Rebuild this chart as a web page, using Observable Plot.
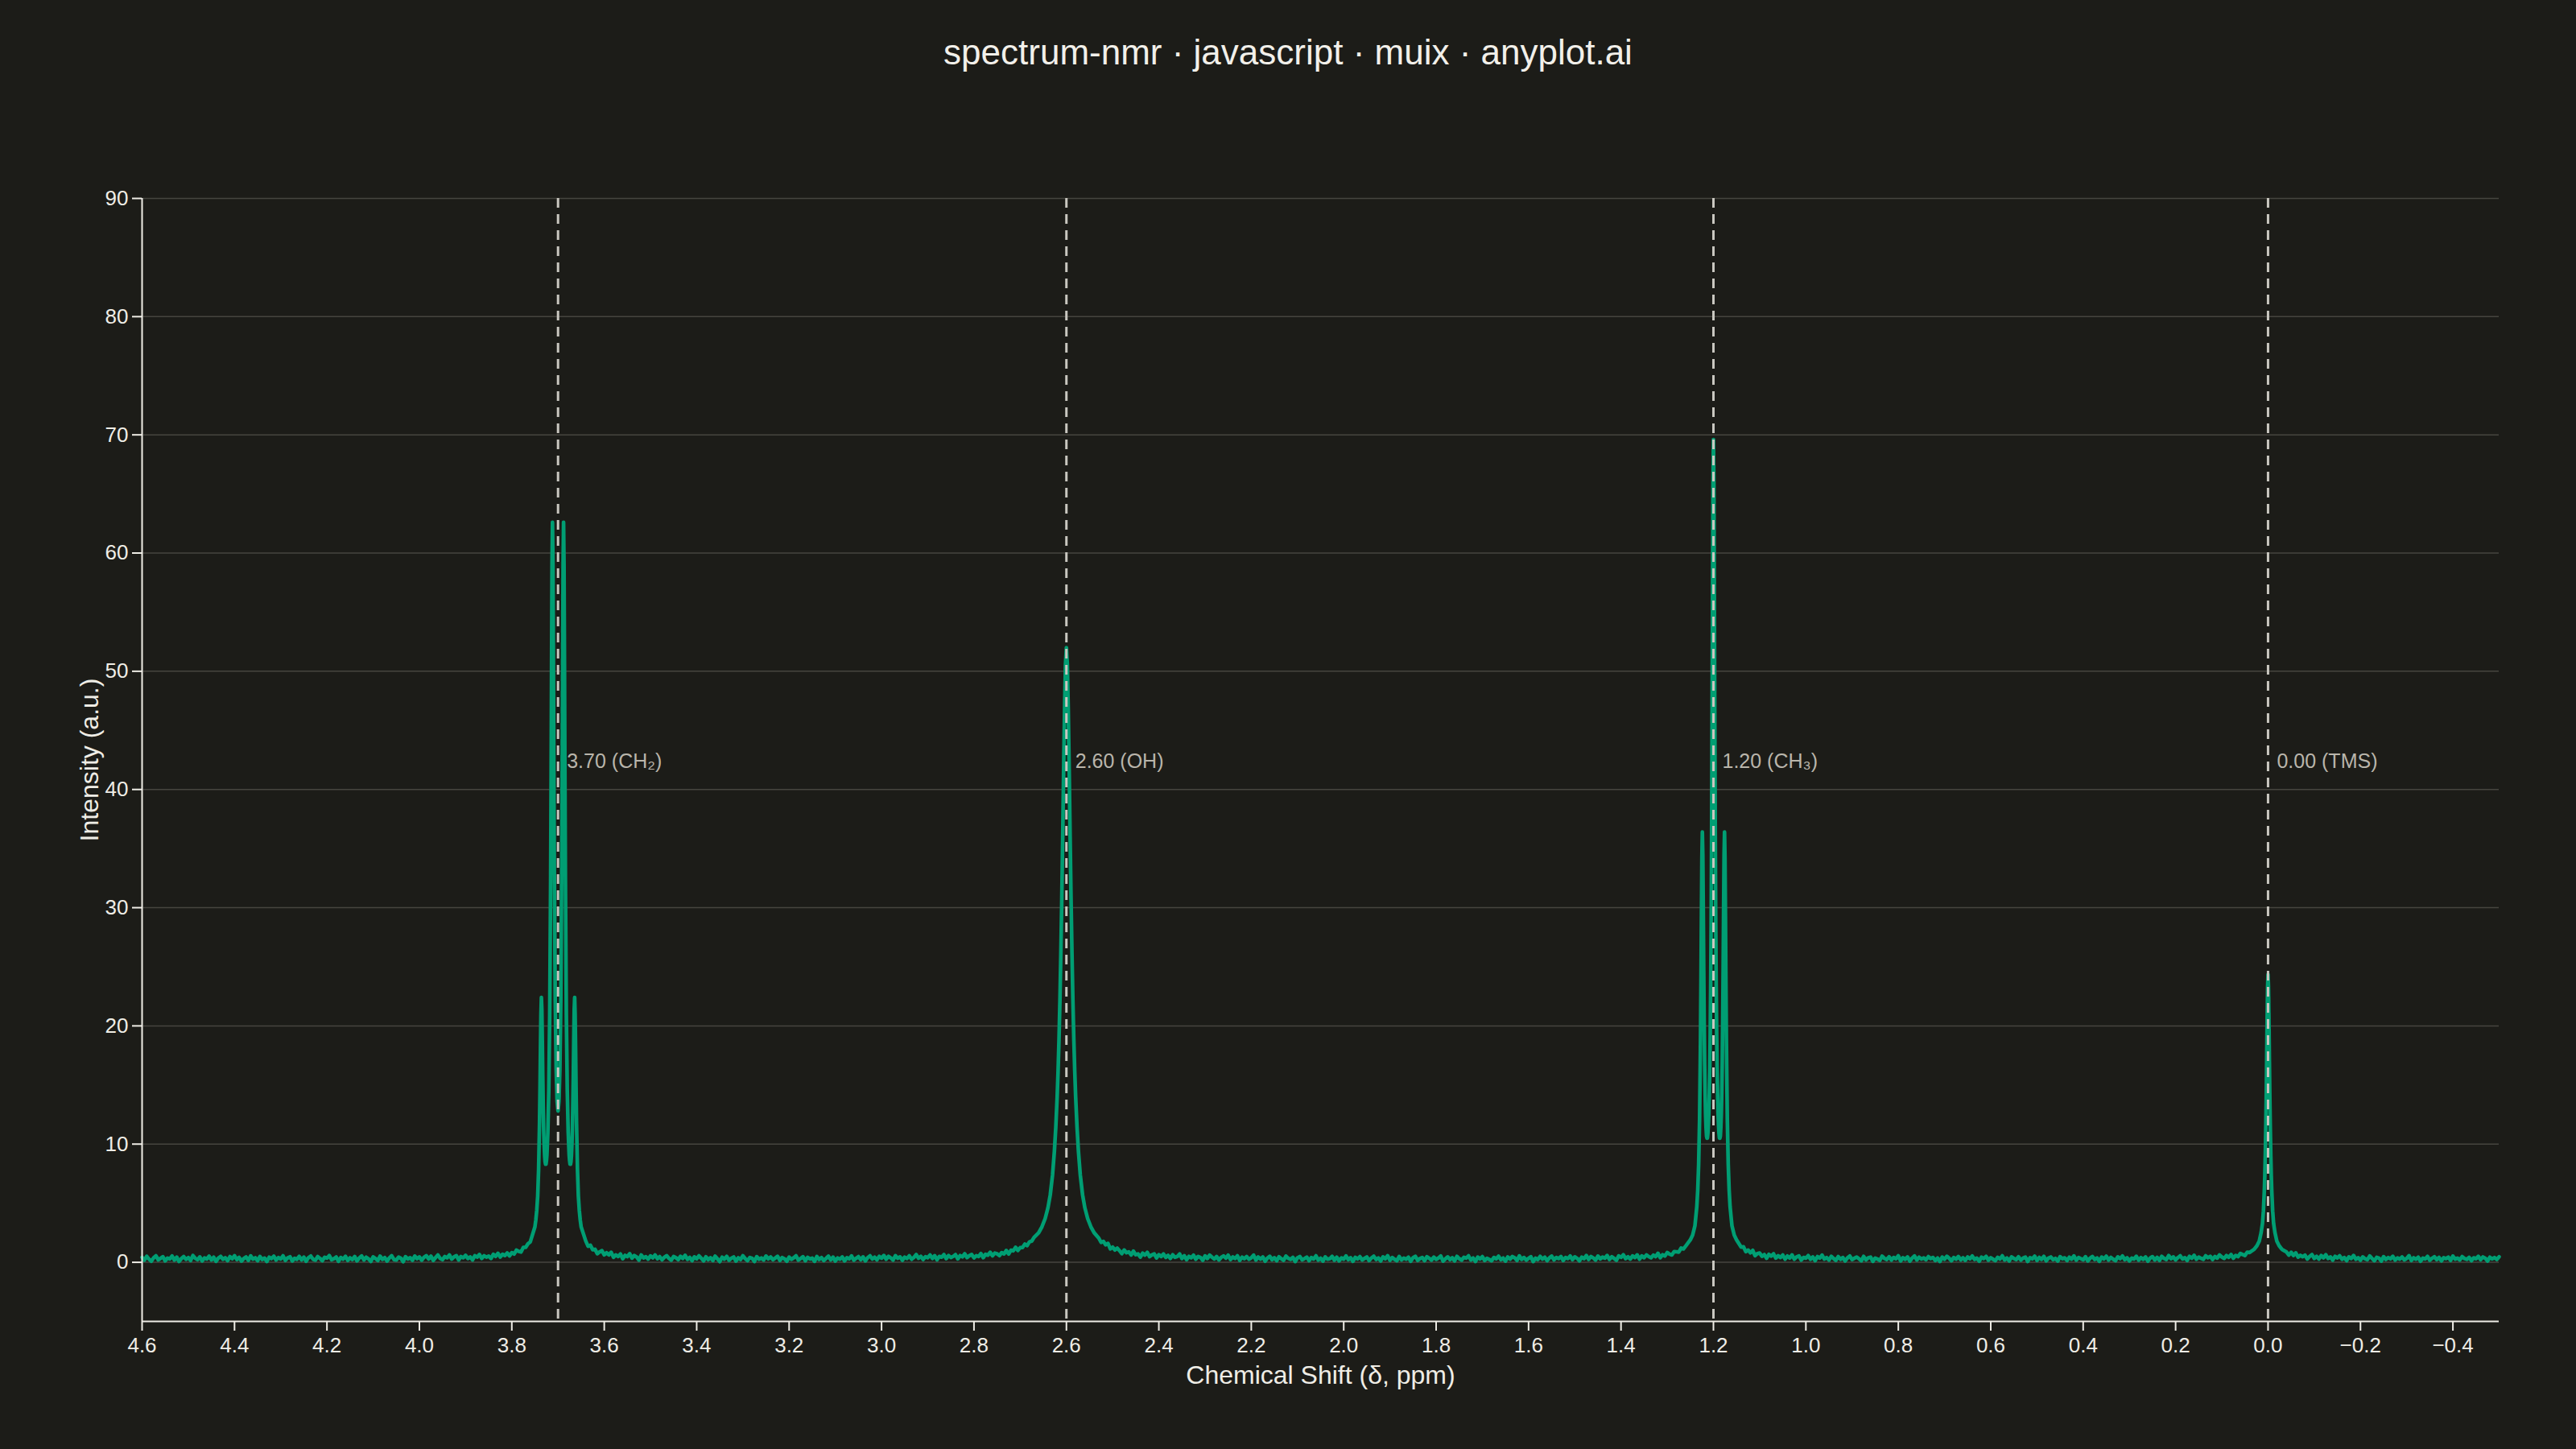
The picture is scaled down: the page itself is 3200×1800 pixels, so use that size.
<!DOCTYPE html>
<html>
<head>
<meta charset="utf-8">
<script src="https://cdn.jsdelivr.net/npm/d3@7"></script>
<script src="https://cdn.jsdelivr.net/npm/@observablehq/plot@0.6"></script>
<style>
  html, body { margin: 0; padding: 0; background: #1c1c18; overflow: hidden; }
  #title { padding-top: 43px; height: 44px; line-height: 44px; font-size: 44px; text-align: center;
           color: #f2f0ea; font-family: "Liberation Sans", Arial, Helvetica, sans-serif; }
  #chart svg { display: block; }
</style>
</head>
<body>
<div id="title">spectrum-nmr · javascript · muix · anyplot.ai</div>
<div id="chart"></div>
<script>
// ---- data ----
const xLabel = "Chemical Shift (δ, ppm)";
const yLabel = "Intensity (a.u.)";
const xTicks = [4.6, 4.4, 4.2, 4.0, 3.8, 3.6, 3.4, 3.2, 3.0, 2.8, 2.6, 2.4, 2.2, 2.0, 1.8, 1.6, 1.4, 1.2, 1.0, 0.8, 0.6, 0.4, 0.2, 0.0, -0.2, -0.4];
const yTicks = [0, 10, 20, 30, 40, 50, 60, 70, 80, 90];
const peakShifts = [3.70, 2.60, 1.20, 0.00];
const peakLabels = ["3.70 (CH₂)", "2.60 (OH)", "1.20 (CH₃)", "0.00 (TMS)"];

// baseline 4.600 -> 3.760
const baseAShift = [
4.600,4.595,4.590,4.585,4.580,4.575,4.570,4.565,4.560,4.555,
4.550,4.545,4.540,4.535,4.530,4.525,4.520,4.515,4.510,4.505,
4.500,4.495,4.490,4.485,4.480,4.475,4.470,4.465,4.460,4.455,
4.450,4.445,4.440,4.435,4.430,4.425,4.420,4.415,4.410,4.405,
4.400,4.395,4.390,4.385,4.380,4.375,4.370,4.365,4.360,4.355,
4.350,4.345,4.340,4.335,4.330,4.325,4.320,4.315,4.310,4.305,
4.300,4.295,4.290,4.285,4.280,4.275,4.270,4.265,4.260,4.255,
4.250,4.245,4.240,4.235,4.230,4.225,4.220,4.215,4.210,4.205,
4.200,4.195,4.190,4.185,4.180,4.175,4.170,4.165,4.160,4.155,
4.150,4.145,4.140,4.135,4.130,4.125,4.120,4.115,4.110,4.105,
4.100,4.095,4.090,4.085,4.080,4.075,4.070,4.065,4.060,4.055,
4.050,4.045,4.040,4.035,4.030,4.025,4.020,4.015,4.010,4.005,
4.000,3.995,3.990,3.985,3.980,3.975,3.970,3.965,3.960,3.955,
3.950,3.945,3.940,3.935,3.930,3.925,3.920,3.915,3.910,3.905,
3.900,3.895,3.890,3.885,3.880,3.875,3.870,3.865,3.860,3.855,
3.850,3.845,3.840,3.835,3.830,3.825,3.820,3.815,3.810,3.805,
3.800,3.795,3.790,3.785,3.780,3.775,3.770,3.765,3.760];
const baseAInt = [
0.42,0.18,0.51,0.27,0.09,0.38,0.55,0.21,0.33,0.47,
0.12,0.36,0.29,0.53,0.19,0.44,0.07,0.31,0.49,0.25,
0.40,0.15,0.57,0.34,0.22,0.46,0.11,0.37,0.28,0.52,
0.20,0.43,0.08,0.35,0.50,0.26,0.39,0.14,0.48,0.30,
0.56,0.23,0.41,0.10,0.32,0.45,0.17,0.54,0.27,0.38,
0.13,0.49,0.24,0.36,0.06,0.43,0.31,0.52,0.19,0.40,
0.28,0.55,0.16,0.37,0.47,0.11,0.34,0.25,0.50,0.21,
0.44,0.09,0.39,0.53,0.26,0.18,0.48,0.33,0.14,0.42,
0.35,0.57,0.22,0.30,0.45,0.08,0.41,0.27,0.51,0.16,
0.38,0.24,0.49,0.12,0.36,0.54,0.20,0.43,0.29,0.07,
0.46,0.32,0.15,0.52,0.25,0.40,0.10,0.37,0.56,0.23,
0.19,0.44,0.34,0.05,0.48,0.28,0.39,0.17,0.53,0.31,
0.46,0.18,0.42,0.56,0.28,0.52,0.16,0.40,0.62,0.33,
0.22,0.49,0.38,0.62,0.27,0.46,0.56,0.20,0.49,0.38,
0.59,0.32,0.46,0.20,0.56,0.44,0.66,0.32,0.56,0.44,
0.52,0.32,0.68,0.50,0.76,0.45,0.68,0.57,0.79,0.54,
0.82,0.70,1.03,0.92,0.87,1.27,1.26,1.57,1.73];

// CH2 quartet 3.750 -> 3.650
const ch2Shift = [3.750,3.748,3.746,3.744,3.742,3.740,3.739,3.738,3.737,3.736,
3.735,3.734,3.733,3.732,3.731,3.730,3.729,3.728,3.727,3.726,
3.725,3.724,3.722,3.720,3.718,3.716,3.715,3.714,3.713,3.712,
3.711,3.710,3.709,3.708,3.706,3.704,3.702,3.700,3.698,3.696,
3.694,3.692,3.691,3.690,3.689,3.688,3.687,3.686,3.685,3.684,
3.682,3.680,3.678,3.676,3.675,3.674,3.673,3.672,3.671,3.670,
3.669,3.668,3.667,3.666,3.665,3.664,3.663,3.662,3.661,3.660,
3.658,3.656,3.654,3.652,3.650];
const ch2Int = [3.0,3.6,4.4,5.6,7.9,11.9,14.8,18.1,21.0,22.4,
21.4,18.7,15.7,13.2,11.2,9.9,9.0,8.5,8.3,8.3,
8.6,9.1,11.0,14.5,20.9,32.4,40.8,50.5,59.0,62.6,
59.2,50.8,41.4,33.2,22.1,16.3,13.6,12.8,13.6,16.3,
22.1,33.2,41.4,50.8,59.2,62.6,59.0,50.5,40.8,32.4,
20.9,14.5,11.0,9.1,8.6,8.3,8.3,8.5,9.0,9.9,
11.2,13.2,15.7,18.7,21.4,22.4,21.0,18.1,14.8,11.9,
7.9,5.6,4.4,3.6,3.0];

// baseline 3.640 -> 2.670
const baseBShift = [
3.640,3.635,3.630,3.625,3.620,3.615,3.610,3.605,3.600,3.595,
3.590,3.585,3.580,3.575,3.570,3.565,3.560,3.555,3.550,3.545,
3.540,3.535,3.530,3.525,3.520,3.515,3.510,3.505,3.500,3.495,
3.490,3.485,3.480,3.475,3.470,3.465,3.460,3.455,3.450,3.445,
3.440,3.435,3.430,3.425,3.420,3.415,3.410,3.405,3.400,3.395,
3.390,3.385,3.380,3.375,3.370,3.365,3.360,3.355,3.350,3.345,
3.340,3.335,3.330,3.325,3.320,3.315,3.310,3.305,3.300,3.295,
3.290,3.285,3.280,3.275,3.270,3.265,3.260,3.255,3.250,3.245,
3.240,3.235,3.230,3.225,3.220,3.215,3.210,3.205,3.200,3.195,
3.190,3.185,3.180,3.175,3.170,3.165,3.160,3.155,3.150,3.145,
3.140,3.135,3.130,3.125,3.120,3.115,3.110,3.105,3.100,3.095,
3.090,3.085,3.080,3.075,3.070,3.065,3.060,3.055,3.050,3.045,
3.040,3.035,3.030,3.025,3.020,3.015,3.010,3.005,3.000,2.995,
2.990,2.985,2.980,2.975,2.970,2.965,2.960,2.955,2.950,2.945,
2.940,2.935,2.930,2.925,2.920,2.915,2.910,2.905,2.900,2.895,
2.890,2.885,2.880,2.875,2.870,2.865,2.860,2.855,2.850,2.845,
2.840,2.835,2.830,2.825,2.820,2.815,2.810,2.805,2.800,2.795,
2.790,2.785,2.780,2.775,2.770,2.765,2.760,2.755,2.750,2.745,
2.740,2.735,2.730,2.725,2.720,2.715,2.710,2.705,2.700,2.695,
2.690,2.685,2.680,2.675,2.670];
const baseBInt = [
1.80,1.36,1.45,1.07,1.10,0.73,0.88,0.99,0.63,0.81,
0.63,0.85,0.42,0.63,0.49,0.70,0.30,0.59,0.48,0.73,
0.35,0.58,0.45,0.19,0.62,0.37,0.48,0.27,0.54,0.38,
0.62,0.30,0.48,0.21,0.42,0.56,0.33,0.18,0.49,0.39,
0.22,0.51,0.33,0.59,0.25,0.41,0.14,0.46,0.30,0.55,
0.34,0.12,0.47,0.23,0.39,0.15,0.52,0.29,0.06,0.43,
0.27,0.50,0.18,0.35,0.45,0.10,0.38,0.24,0.56,0.31,
0.14,0.41,0.33,0.07,0.48,0.26,0.37,0.20,0.53,0.29,
0.45,0.22,0.36,0.51,0.16,0.40,0.30,0.09,0.44,0.25,
0.38,0.55,0.19,0.32,0.47,0.13,0.42,0.28,0.35,0.08,
0.49,0.24,0.40,0.15,0.33,0.52,0.21,0.44,0.11,0.37,
0.26,0.46,0.12,0.39,0.29,0.54,0.18,0.34,0.48,0.22,
0.46,0.12,0.40,0.55,0.28,0.43,0.21,0.50,0.35,0.58,
0.26,0.50,0.37,0.19,0.56,0.34,0.46,0.17,0.44,0.32,
0.55,0.26,0.42,0.65,0.34,0.50,0.24,0.47,0.39,0.62,
0.33,0.56,0.21,0.50,0.43,0.65,0.31,0.57,0.41,0.50,
0.65,0.29,0.57,0.46,0.72,0.40,0.56,0.66,0.38,0.56,
0.49,0.74,0.39,0.68,0.60,0.85,0.55,0.78,0.72,0.57,
0.82,0.71,1.00,0.70,1.02,0.97,1.27,1.00,1.24,1.25,
1.54,1.41,1.73,1.79,2.11];

// OH singlet 2.660 -> 2.540
const ohShift = [2.660,2.653,2.646,2.640,2.635,2.630,2.626,2.623,2.620,2.618,
2.616,2.614,2.612,2.610,2.608,2.606,2.604,2.602,2.600,2.598,
2.596,2.594,2.592,2.590,2.588,2.586,2.584,2.582,2.580,2.577,
2.574,2.570,2.565,2.560,2.554,2.547,2.540];
const ohInt = [2.5,3.0,3.7,4.6,5.7,7.4,9.4,11.4,14.0,16.2,
18.9,22.2,26.2,30.8,36.1,41.7,46.8,50.6,52.0,50.6,
46.8,41.7,36.1,30.8,26.2,22.2,18.9,16.2,14.0,11.4,
9.4,7.4,5.7,4.6,3.7,3.0,2.5];

// baseline 2.530 -> 1.260
const baseCShift = [
2.530,2.525,2.520,2.515,2.510,2.505,2.500,2.495,2.490,2.485,
2.480,2.475,2.470,2.465,2.460,2.455,2.450,2.445,2.440,2.435,
2.430,2.425,2.420,2.415,2.410,2.405,2.400,2.395,2.390,2.385,
2.380,2.375,2.370,2.365,2.360,2.355,2.350,2.345,2.340,2.335,
2.330,2.325,2.320,2.315,2.310,2.305,2.300,2.295,2.290,2.285,
2.280,2.275,2.270,2.265,2.260,2.255,2.250,2.245,2.240,2.235,
2.230,2.225,2.220,2.215,2.210,2.205,2.200,2.195,2.190,2.185,
2.180,2.175,2.170,2.165,2.160,2.155,2.150,2.145,2.140,2.135,
2.130,2.125,2.120,2.115,2.110,2.105,2.100,2.095,2.090,2.085,
2.080,2.075,2.070,2.065,2.060,2.055,2.050,2.045,2.040,2.035,
2.030,2.025,2.020,2.015,2.010,2.005,2.000,1.995,1.990,1.985,
1.980,1.975,1.970,1.965,1.960,1.955,1.950,1.945,1.940,1.935,
1.930,1.925,1.920,1.915,1.910,1.905,1.900,1.895,1.890,1.885,
1.880,1.875,1.870,1.865,1.860,1.855,1.850,1.845,1.840,1.835,
1.830,1.825,1.820,1.815,1.810,1.805,1.800,1.795,1.790,1.785,
1.780,1.775,1.770,1.765,1.760,1.755,1.750,1.745,1.740,1.735,
1.730,1.725,1.720,1.715,1.710,1.705,1.700,1.695,1.690,1.685,
1.680,1.675,1.670,1.665,1.660,1.655,1.650,1.645,1.640,1.635,
1.630,1.625,1.620,1.615,1.610,1.605,1.600,1.595,1.590,1.585,
1.580,1.575,1.570,1.565,1.560,1.555,1.550,1.545,1.540,1.535,
1.530,1.525,1.520,1.515,1.510,1.505,1.500,1.495,1.490,1.485,
1.480,1.475,1.470,1.465,1.460,1.455,1.450,1.445,1.440,1.435,
1.430,1.425,1.420,1.415,1.410,1.405,1.400,1.395,1.390,1.385,
1.380,1.375,1.370,1.365,1.360,1.355,1.350,1.345,1.340,1.335,
1.330,1.325,1.320,1.315,1.310,1.305,1.300,1.295,1.290,1.285,
1.280,1.275,1.270,1.265,1.260];
const baseCInt = [
2.05,1.69,1.77,1.48,1.60,1.13,1.28,1.04,1.20,0.98,
0.73,1.04,0.81,0.89,0.62,0.95,0.64,0.71,0.44,0.77,
0.61,0.84,0.48,0.63,0.71,0.37,0.64,0.49,0.71,0.41,
0.58,0.33,0.64,0.42,0.49,0.70,0.32,0.56,0.22,0.50,
0.38,0.60,0.26,0.50,0.41,0.17,0.54,0.32,0.61,0.43,
0.28,0.49,0.20,0.42,0.54,0.35,0.60,0.23,0.45,0.32,
0.55,0.17,0.43,0.30,0.49,0.25,0.38,0.61,0.19,0.45,
0.27,0.45,0.09,0.36,0.51,0.22,0.39,0.13,0.47,0.30,
0.17,0.53,0.34,0.25,0.42,0.06,0.38,0.49,0.21,0.32,
0.44,0.14,0.40,0.28,0.55,0.19,0.35,0.10,0.46,0.26,
0.31,0.50,0.18,0.43,0.12,0.37,0.27,0.54,0.22,0.39,
0.08,0.42,0.29,0.48,0.20,0.33,0.45,0.15,0.36,0.52,
0.24,0.37,0.11,0.46,0.30,0.56,0.17,0.40,0.26,0.13,
0.49,0.21,0.35,0.27,0.43,0.09,0.38,0.51,0.16,0.32,
0.40,0.14,0.47,0.33,0.19,0.44,0.25,0.36,0.53,0.10,
0.29,0.46,0.23,0.39,0.12,0.50,0.31,0.18,0.42,0.35,
0.55,0.20,0.37,0.07,0.44,0.28,0.48,0.15,0.34,0.24,
0.13,0.41,0.30,0.52,0.22,0.36,0.10,0.45,0.27,0.49,
0.38,0.16,0.54,0.25,0.41,0.19,0.33,0.47,0.06,0.35,
0.23,0.50,0.28,0.43,0.14,0.37,0.52,0.21,0.40,0.31,
0.49,0.15,0.40,0.31,0.53,0.22,0.46,0.34,0.12,0.43,
0.31,0.58,0.24,0.49,0.37,0.19,0.53,0.29,0.44,0.35,
0.58,0.24,0.47,0.33,0.17,0.54,0.42,0.64,0.31,0.47,
0.27,0.54,0.40,0.63,0.26,0.54,0.39,0.63,0.48,0.38,
0.61,0.48,0.76,0.39,0.64,0.53,0.83,0.69,0.62,0.91,
0.89,0.86,1.20,1.13,1.38];

// CH3 triplet 1.250 -> 1.150
const ch3Shift = [1.250,1.245,1.240,1.236,1.234,1.232,1.230,1.228,
1.227,1.226,1.225,1.224,1.223,1.222,1.221,1.220,1.219,1.218,
1.217,1.216,1.215,1.214,1.213,1.212,1.211,1.210,1.209,1.208,
1.207,1.206,1.205,1.204,1.203,1.202,1.201,1.200,
1.199,1.198,1.197,1.196,1.195,1.194,1.193,1.192,1.191,1.190,
1.189,1.188,1.187,1.186,1.185,1.184,1.183,1.182,1.181,1.180,
1.179,1.178,1.177,1.176,1.175,1.174,1.173,1.172,
1.170,1.168,1.166,1.164,1.160,1.155,1.150];
const ch3Int = [1.9,2.3,3.1,4.7,6.1,8.3,12.1,18.9,
23.7,29.3,34.2,36.4,34.5,29.9,24.7,20.2,16.7,14.3,
12.5,11.4,10.7,10.5,10.5,10.9,11.6,12.6,14.2,16.3,
19.2,23.3,28.7,36.0,45.4,56.2,65.7,69.6,
65.7,56.2,45.4,36.0,28.7,23.3,19.2,16.3,14.2,12.6,
11.6,10.9,10.5,10.5,10.7,11.4,12.5,14.3,16.7,20.2,
24.7,29.9,34.5,36.4,34.2,29.3,23.7,18.9,
12.1,8.3,6.1,4.7,3.1,2.3,1.9];

// baseline 1.140 -> 0.040
const baseDShift = [
1.140,1.135,1.130,1.125,1.120,1.115,1.110,1.105,1.100,1.095,
1.090,1.085,1.080,1.075,1.070,1.065,1.060,1.055,1.050,1.045,
1.040,1.035,1.030,1.025,1.020,1.015,1.010,1.005,1.000,0.995,
0.990,0.985,0.980,0.975,0.970,0.965,0.960,0.955,0.950,0.945,
0.940,0.935,0.930,0.925,0.920,0.915,0.910,0.905,0.900,0.895,
0.890,0.885,0.880,0.875,0.870,0.865,0.860,0.855,0.850,0.845,
0.840,0.835,0.830,0.825,0.820,0.815,0.810,0.805,0.800,0.795,
0.790,0.785,0.780,0.775,0.770,0.765,0.760,0.755,0.750,0.745,
0.740,0.735,0.730,0.725,0.720,0.715,0.710,0.705,0.700,0.695,
0.690,0.685,0.680,0.675,0.670,0.665,0.660,0.655,0.650,0.645,
0.640,0.635,0.630,0.625,0.620,0.615,0.610,0.605,0.600,0.595,
0.590,0.585,0.580,0.575,0.570,0.565,0.560,0.555,0.550,0.545,
0.540,0.535,0.530,0.525,0.520,0.515,0.510,0.505,0.500,0.495,
0.490,0.485,0.480,0.475,0.470,0.465,0.460,0.455,0.450,0.445,
0.440,0.435,0.430,0.425,0.420,0.415,0.410,0.405,0.400,0.395,
0.390,0.385,0.380,0.375,0.370,0.365,0.360,0.355,0.350,0.345,
0.340,0.335,0.330,0.325,0.320,0.315,0.310,0.305,0.300,0.295,
0.290,0.285,0.280,0.275,0.270,0.265,0.260,0.255,0.250,0.245,
0.240,0.235,0.230,0.225,0.220,0.215,0.210,0.205,0.200,0.195,
0.190,0.185,0.180,0.175,0.170,0.165,0.160,0.155,0.150,0.145,
0.140,0.135,0.130,0.125,0.120,0.115,0.110,0.105,0.100,0.095,
0.090,0.085,0.080,0.075,0.070,0.065,0.060,0.055,0.050,0.045,
0.040];
const baseDInt = [
1.28,1.32,0.90,1.04,0.80,1.01,0.56,0.74,0.78,0.51,
0.65,0.34,0.67,0.52,0.72,0.36,0.56,0.41,0.62,0.26,
0.53,0.36,0.63,0.26,0.46,0.54,0.19,0.41,0.35,0.57,
0.26,0.45,0.14,0.48,0.36,0.61,0.27,0.40,0.19,0.51,
0.32,0.17,0.48,0.26,0.40,0.11,0.37,0.53,0.23,0.34,
0.45,0.29,0.13,0.50,0.21,0.38,0.44,0.08,0.36,0.27,
0.16,0.52,0.33,0.24,0.47,0.19,0.41,0.30,0.55,0.12,
0.39,0.25,0.46,0.10,0.35,0.54,0.20,0.43,0.28,0.37,
0.22,0.48,0.31,0.41,0.15,0.36,0.06,0.44,0.26,0.51,
0.34,0.13,0.40,0.27,0.49,0.21,0.38,0.17,0.45,0.30,
0.53,0.24,0.36,0.09,0.43,0.32,0.50,0.18,0.39,0.26,
0.14,0.42,0.28,0.55,0.20,0.37,0.11,0.46,0.33,0.23,
0.47,0.19,0.35,0.44,0.07,0.39,0.29,0.52,0.16,0.41,
0.25,0.50,0.12,0.36,0.45,0.22,0.33,0.10,0.48,0.30,
0.38,0.15,0.43,0.27,0.54,0.18,0.40,0.31,0.21,0.47,
0.11,0.35,0.49,0.24,0.37,0.08,0.44,0.29,0.52,0.19,
0.42,0.26,0.14,0.46,0.31,0.53,0.22,0.38,0.12,0.35,
0.28,0.51,0.18,0.40,0.25,0.45,0.09,0.36,0.48,0.20,
0.42,0.16,0.50,0.33,0.24,0.57,0.30,0.46,0.20,0.40,
0.55,0.28,0.39,0.16,0.50,0.34,0.59,0.26,0.44,0.33,
0.25,0.55,0.39,0.51,0.24,0.49,0.35,0.63,0.45,0.33,
0.57,0.42,0.66,0.34,0.58,0.48,0.75,0.66,0.58,0.86,
0.83];

// TMS singlet 0.030 -> -0.030
const tmsShift = [0.030,0.024,0.019,0.015,0.012,0.010,0.008,0.007,0.006,0.005,
0.004,0.003,0.002,0.001,0.000,-0.001,-0.002,-0.003,-0.004,-0.005,
-0.006,-0.007,-0.008,-0.010,-0.012,-0.015,-0.019,-0.024,-0.030];
const tmsInt = [1.1,1.4,1.8,2.5,3.3,4.35,6.1,7.3,9.0,11.1,
13.7,16.9,20.4,23.2,24.35,23.2,20.4,16.9,13.7,11.1,
9.0,7.3,6.1,4.35,3.3,2.5,1.8,1.4,1.1];

// baseline -0.040 -> -0.500
const baseEShift = [
-0.040,-0.045,-0.050,-0.055,-0.060,-0.065,-0.070,-0.075,-0.080,-0.085,
-0.090,-0.095,-0.100,-0.105,-0.110,-0.115,-0.120,-0.125,-0.130,-0.135,
-0.140,-0.145,-0.150,-0.155,-0.160,-0.165,-0.170,-0.175,-0.180,-0.185,
-0.190,-0.195,-0.200,-0.205,-0.210,-0.215,-0.220,-0.225,-0.230,-0.235,
-0.240,-0.245,-0.250,-0.255,-0.260,-0.265,-0.270,-0.275,-0.280,-0.285,
-0.290,-0.295,-0.300,-0.305,-0.310,-0.315,-0.320,-0.325,-0.330,-0.335,
-0.340,-0.345,-0.350,-0.355,-0.360,-0.365,-0.370,-0.375,-0.380,-0.385,
-0.390,-0.395,-0.400,-0.405,-0.410,-0.415,-0.420,-0.425,-0.430,-0.435,
-0.440,-0.445,-0.450,-0.455,-0.460,-0.465,-0.470,-0.475,-0.480,-0.485,
-0.490,-0.495,-0.500];
const baseEInt = [
0.87,0.61,0.85,0.58,0.80,0.44,0.59,0.47,0.60,0.27,
0.50,0.65,0.33,0.51,0.27,0.57,0.38,0.64,0.32,0.46,
0.19,0.51,0.37,0.55,0.26,0.41,0.14,0.46,0.32,0.58,
0.26,0.39,0.17,0.46,0.30,0.22,0.54,0.33,0.13,0.42,
0.35,0.10,0.48,0.24,0.40,0.29,0.51,0.19,0.37,0.27,
0.45,0.21,0.33,0.56,0.15,0.38,0.26,0.43,0.09,0.36,
0.28,0.50,0.18,0.34,0.47,0.23,0.41,0.12,0.39,0.31,
0.44,0.16,0.53,0.27,0.36,0.20,0.48,0.32,0.25,0.42,
0.14,0.38,0.30,0.51,0.22,0.45,0.35,0.11,0.43,0.29,
0.40,0.24,0.47];

// ---- assemble ----
const shiftParts = [baseAShift, ch2Shift, baseBShift, ohShift, baseCShift, ch3Shift, baseDShift, tmsShift, baseEShift];
const intParts = [baseAInt, ch2Int, baseBInt, ohInt, baseCInt, ch3Int, baseDInt, tmsInt, baseEInt];
const spectrum = [];
shiftParts.forEach((part, k) => {
  if (part.length !== intParts[k].length) console.warn("length mismatch in part", k, part.length, intParts[k].length);
  part.forEach((s, i) => spectrum.push({shift: s, intensity: intParts[k][i]}));
});

const font = "'Liberation Sans', Arial, Helvetica, sans-serif";
const fg = "#efede6";

const chart = Plot.plot({
  width: 3200,
  height: 1713,
  marginTop: 159,
  marginBottom: 159,
  marginLeft: 176,
  marginRight: 96,
  style: {background: "#1c1c18", color: fg, fontFamily: font, fontSize: "26px", overflow: "visible"},
  x: {domain: [4.6, -0.5]},
  y: {domain: [-5, 90]},
  marks: [
    Plot.gridY(yTicks, {stroke: "#46453f", strokeOpacity: 1, strokeWidth: 1.5}),
    Plot.line(spectrum, {x: "shift", y: "intensity", stroke: "#009E73", strokeWidth: 4.6, strokeLinejoin: "round"}),
    Plot.ruleX(peakShifts, {stroke: "#c9c7c0", strokeWidth: 3, strokeDasharray: "12,8"}),
    Plot.text(peakLabels, {x: peakShifts, frameAnchor: "top", dy: 699, dx: 11, textAnchor: "start", lineAnchor: "middle", fill: "#b9b5ab", fontSize: 25}),
    Plot.ruleX([4.6], {stroke: fg, strokeWidth: 2}),
    Plot.ruleY([-5], {stroke: fg, strokeWidth: 2}),
    Plot.axisX(xTicks, {tickSize: 12, tickPadding: 8, strokeWidth: 2, stroke: fg, fill: fg, fontSize: 26, label: null, tickFormat: d3.format(".1f")}),
    Plot.axisY(yTicks, {tickSize: 12, tickPadding: 5, strokeWidth: 2, stroke: fg, fill: fg, fontSize: 26, label: null, tickFormat: d3.format("d")}),
    Plot.text([xLabel], {frameAnchor: "bottom", dy: 54.4, lineAnchor: "top", fill: fg, fontSize: 32}),
    Plot.text([yLabel], {frameAnchor: "left", rotate: -90, dx: -77.7, textAnchor: "middle", lineAnchor: "top", fill: fg, fontSize: 32})
  ]
});
document.getElementById("chart").appendChild(chart);
</script>
</body>
</html>
